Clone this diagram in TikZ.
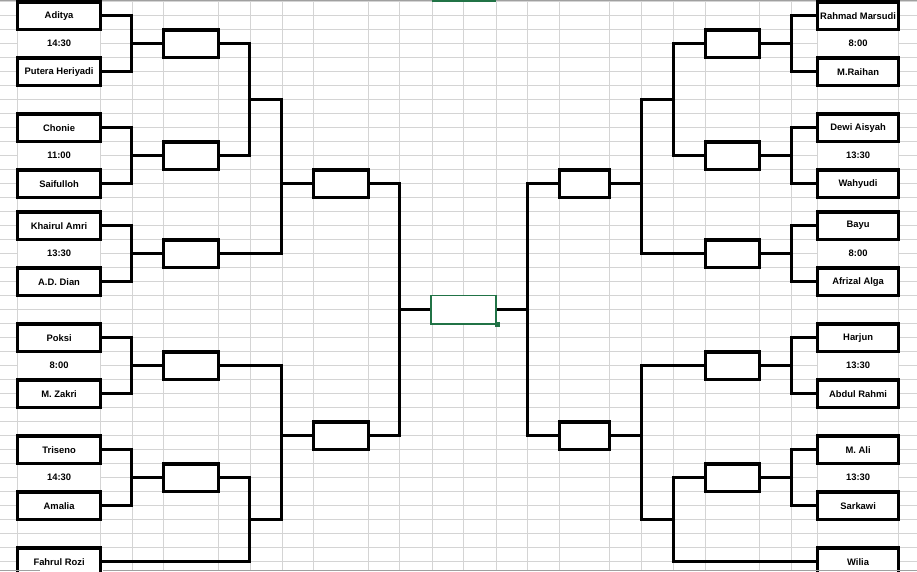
\documentclass[tikz,border=0pt]{standalone}
\usepackage{fontspec}
\setmainfont{Liberation Sans}
\usetikzlibrary{calc}
\definecolor{gridc}{RGB}{212,212,212}
\definecolor{xlgreen}{RGB}{33,115,70}
\definecolor{edgegray}{RGB}{160,160,160}
\begin{document}
\begin{tikzpicture}[x=1pt,y=-1pt,
  conn/.style={line width=3.3pt},
  txt/.style={font=\fontsize{9.4}{11}\selectfont\bfseries},
  plbox/.style={txt, draw, line width=3.3pt, fill=white, minimum width=83pt, minimum height=27.6pt, inner sep=0pt},
  prbox/.style={plbox, minimum width=81pt},
  timecell/.style={txt, fill=white, minimum width=82pt, minimum height=26pt, inner sep=0pt},
  winbox/.style={draw, line width=3.3pt, fill=white, minimum height=27.6pt, inner sep=0pt},
  finalbox/.style={draw=xlgreen, line width=1.8pt, fill=white, minimum width=65.4pt, minimum height=28.3pt, inner sep=0pt}
]
\useasboundingbox (0,0) rectangle (917,571);
\clip (0,0) rectangle (917,571);
\fill[white] (0,0) rectangle (917,571);
% grid
\foreach \x in {17,100,132,163,218,250,282,313,368,399,432,463,496,527,559,609,641,673,705,759,791,817,898}
  \draw[gridc, line width=1pt] (\x,0) -- (\x,571);
\foreach \k in {0,...,41}
  \draw[gridc, line width=1pt] (0,{1+14*\k}) -- (917,{1+14*\k});
\draw[edgegray, line width=1pt] (0,0.5) -- (917,0.5);
\draw[xlgreen, line width=2.5pt] (432,0.5) -- (496,0.5);

\begin{scope}[shift={(0.6,0.7)}]
% left players
\node[plbox] (L1) at (58.5,15) {Aditya};
\node[timecell] (tl1) at (58.5,43) {14:30};
\node[plbox] (L2) at (58.5,71) {Putera Heriyadi};
\node[plbox] (L3) at (58.5,127) {Chonie};
\node[timecell] (tl2) at (58.5,155) {11:00};
\node[plbox] (L4) at (58.5,183) {Saifulloh};
\node[plbox] (L5) at (58.5,225) {Khairul Amri};
\node[timecell] (tl3) at (58.5,253) {13:30};
\node[plbox] (L6) at (58.5,281) {A.D. Dian};
\node[plbox] (L7) at (58.5,337) {Poksi};
\node[timecell] (tl4) at (58.5,365) {8:00};
\node[plbox] (L8) at (58.5,393) {M. Zakri};
\node[plbox] (L9) at (58.5,449) {Triseno};
\node[timecell] (tl5) at (58.5,477) {14:30};
\node[plbox] (L10) at (58.5,505) {Amalia};
\node[plbox] (L11) at (58.5,561) {Fahrul Rozi};

% right players
\node[prbox] (R1) at (857.5,15) {Rahmad Marsudi};
\node[timecell, minimum width=80pt] (tr1) at (857.5,43) {8:00};
\node[prbox] (R2) at (857.5,71) {M.Raihan};
\node[prbox] (R3) at (857.5,127) {Dewi Aisyah};
\node[timecell, minimum width=80pt] (tr2) at (857.5,155) {13:30};
\node[prbox] (R4) at (857.5,183) {Wahyudi};
\node[prbox] (R5) at (857.5,225) {Bayu};
\node[timecell, minimum width=80pt] (tr3) at (857.5,253) {8:00};
\node[prbox] (R6) at (857.5,281) {Afrizal Alga};
\node[prbox] (R7) at (857.5,337) {Harjun};
\node[timecell, minimum width=80pt] (tr4) at (857.5,365) {13:30};
\node[prbox] (R8) at (857.5,393) {Abdul Rahmi};
\node[prbox] (R9) at (857.5,449) {M. Ali};
\node[timecell, minimum width=80pt] (tr5) at (857.5,477) {13:30};
\node[prbox] (R10) at (857.5,505) {Sarkawi};
\node[prbox] (R11) at (857.5,561) {Wilia};

% left round boxes
\node[winbox, minimum width=55pt] (la) at (190.5,43) {};
\node[winbox, minimum width=55pt] (lb) at (190.5,155) {};
\node[winbox, minimum width=55pt] (lc) at (190.5,253) {};
\node[winbox, minimum width=55pt] (ld) at (190.5,365) {};
\node[winbox, minimum width=55pt] (le) at (190.5,477) {};
\node[winbox, minimum width=55pt] (lA) at (340.5,183) {};
\node[winbox, minimum width=55pt] (lB) at (340.5,435) {};
% right round boxes
\node[winbox, minimum width=54pt] (ra) at (732,43) {};
\node[winbox, minimum width=54pt] (rb) at (732,155) {};
\node[winbox, minimum width=54pt] (rc) at (732,253) {};
\node[winbox, minimum width=54pt] (rd) at (732,365) {};
\node[winbox, minimum width=54pt] (re) at (732,477) {};
\node[winbox, minimum width=50pt] (rA) at (584,183) {};
\node[winbox, minimum width=50pt] (rB) at (584,435) {};
% final
\node[finalbox] (fin) at (463,309) {};
\fill[xlgreen] ($(fin.south east)+(-2.7,-2.7)$) rectangle ++(5.4,5.4);

% left connectors
\coordinate (ja) at (131,43);
\coordinate (jb) at (131,155);
\coordinate (jc) at (131,253);
\coordinate (jd) at (131,365);
\coordinate (je) at (131,477);
\draw[conn] (L1.east) -| (ja) |- (L2.east); \draw[conn] (ja) -- (la.west);
\draw[conn] (L3.east) -| (jb) |- (L4.east); \draw[conn] (jb) -- (lb.west);
\draw[conn] (L5.east) -| (jc) |- (L6.east); \draw[conn] (jc) -- (lc.west);
\draw[conn] (L7.east) -| (jd) |- (L8.east); \draw[conn] (jd) -- (ld.west);
\draw[conn] (L9.east) -| (je) |- (L10.east); \draw[conn] (je) -- (le.west);
\coordinate (ka) at (249,99);
\coordinate (na) at (281,183);
\draw[conn] (la.east) -| (ka) |- (lb.east);
\draw[conn] (ka) -| (na) |- (lc.east);
\draw[conn] (na) -- (lA.west);
\coordinate (kb) at (249,519);
\coordinate (nb) at (281,435);
\draw[conn] (le.east) -| (kb) |- (L11.east);
\draw[conn] (ld.east) -| (nb) |- (kb);
\draw[conn] (nb) -- (lB.west);
\coordinate (sl) at (399,309);
\draw[conn] (lA.east) -| (sl) |- (lB.east);
\draw[conn] (sl) -- (fin.west);

% right connectors
\coordinate (jra) at (791,43);
\coordinate (jrb) at (791,155);
\coordinate (jrc) at (791,253);
\coordinate (jrd) at (791,365);
\coordinate (jre) at (791,477);
\draw[conn] (R1.west) -| (jra) |- (R2.west); \draw[conn] (jra) -- (ra.east);
\draw[conn] (R3.west) -| (jrb) |- (R4.west); \draw[conn] (jrb) -- (rb.east);
\draw[conn] (R5.west) -| (jrc) |- (R6.west); \draw[conn] (jrc) -- (rc.east);
\draw[conn] (R7.west) -| (jrd) |- (R8.west); \draw[conn] (jrd) -- (rd.east);
\draw[conn] (R9.west) -| (jre) |- (R10.west); \draw[conn] (jre) -- (re.east);
\coordinate (kra) at (673,99);
\coordinate (nra) at (641,183);
\draw[conn] (ra.west) -| (kra) |- (rb.west);
\draw[conn] (kra) -| (nra) |- (rc.west);
\draw[conn] (nra) -- (rA.east);
\coordinate (krb) at (673,519);
\coordinate (nrb) at (641,435);
\draw[conn] (re.west) -| (krb) |- (R11.west);
\draw[conn] (rd.west) -| (nrb) |- (krb);
\draw[conn] (nrb) -- (rB.east);
\coordinate (sr) at (527,309);
\draw[conn] (rA.west) -| (sr) |- (rB.west);
\draw[conn] (sr) -- (fin.east);
\end{scope}
\draw[edgegray, line width=1pt] (0,570.5) -- (40,570.5) (103,570.5) -- (917,570.5);
\end{tikzpicture}
\end{document}
